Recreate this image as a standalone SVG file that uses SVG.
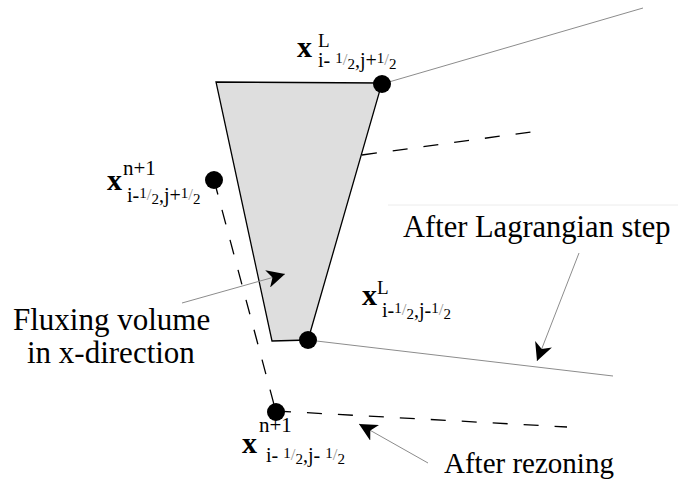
<svg xmlns="http://www.w3.org/2000/svg" width="678" height="485" viewBox="0 0 678 485">
<style>
.thin{stroke:#8c8c8c;stroke-width:1;fill:none}
.dash{stroke:#000;stroke-width:1.3;fill:none;stroke-dasharray:15 16}
.big{font-family:"Liberation Serif","Times New Roman",serif;font-size:31px;fill:#000}
.lab{font-family:"Liberation Serif","Times New Roman",serif;font-size:20px;fill:#000}
.bx{font-size:30px;font-weight:bold}
.sup{font-size:19px}
.fr{font-size:15px}
.sl{font-size:17px;fill:#9a9a9a}
.dot{fill:#000}
</style>
<defs>
<marker id="ah" viewBox="0 0 18 18" refX="18" refY="9" markerWidth="18" markerHeight="18" markerUnits="userSpaceOnUse" orient="auto">
<path d="M18,9 L0,0 L5,9 L0,18 Z" fill="#000"/>
</marker>
</defs>
<line x1="388" y1="205" x2="678" y2="205" stroke="#ececec" stroke-width="1"/>
<g id="volume">
<polygon points="216,82 382,83 308,340 272,341" fill="#dedede" stroke="#000" stroke-width="1.3"/>
</g>
<g id="connectors">
<line class="thin" x1="382" y1="84" x2="643" y2="8"/>
<line class="thin" x1="308" y1="340" x2="613" y2="376"/>
<line class="dash" x1="362" y1="155" x2="538" y2="131"/>
<line class="dash" x1="214" y1="180" x2="276" y2="412"/>
<line class="dash" x1="276" y1="411" x2="567" y2="427"/>
<line class="thin" x1="182" y1="303" x2="285" y2="274" marker-end="url(#ah)"/>
<line class="thin" x1="579" y1="253" x2="537" y2="361" marker-end="url(#ah)"/>
<line class="thin" x1="428" y1="463" x2="359" y2="424" marker-end="url(#ah)"/>
</g>
<g id="p1">
<circle class="dot" cx="382" cy="84" r="9"/>
<text class="lab"><tspan class="bx" x="297" y="57">x</tspan><tspan class="sup" x="318" y="47">L</tspan><tspan x="318" y="67">i- </tspan><tspan class="fr" dy="-4">1</tspan><tspan class="sl" dy="2">/</tspan><tspan class="fr" dy="4">2</tspan><tspan dy="-2">,j+</tspan><tspan class="fr" dy="-4">1</tspan><tspan class="sl" dy="2">/</tspan><tspan class="fr" dy="4">2</tspan></text>
</g>
<g id="p2">
<circle class="dot" cx="214" cy="180" r="9"/>
<text class="lab"><tspan class="bx" x="107" y="190">x</tspan><tspan x="123" y="175" style="font-size:21px">n+1</tspan><tspan x="127" y="202">i-</tspan><tspan class="fr" dy="-4">1</tspan><tspan class="sl" dy="2">/</tspan><tspan class="fr" dy="4">2</tspan><tspan dy="-2">,j+</tspan><tspan class="fr" dy="-4">1</tspan><tspan class="sl" dy="2">/</tspan><tspan class="fr" dy="4">2</tspan></text>
</g>
<g id="p3">
<circle class="dot" cx="308" cy="340" r="9"/>
<text class="lab"><tspan class="bx" x="362" y="305">x</tspan><tspan class="sup" x="377" y="294">L</tspan><tspan x="382" y="317">i-</tspan><tspan class="fr" dy="-4">1</tspan><tspan class="sl" dy="2">/</tspan><tspan class="fr" dy="4">2</tspan><tspan dy="-2">,j-</tspan><tspan class="fr" dy="-4">1</tspan><tspan class="sl" dy="2">/</tspan><tspan class="fr" dy="4">2</tspan></text>
</g>
<g id="p4">
<circle class="dot" cx="276" cy="412" r="9"/>
<text class="lab"><tspan x="259" y="432" style="font-size:21px">n+1</tspan><tspan class="bx" x="242" y="453">x</tspan><tspan x="266" y="462">i- </tspan><tspan class="fr" dy="-4">1</tspan><tspan class="sl" dy="2">/</tspan><tspan class="fr" dy="4">2</tspan><tspan dy="-2">,j- </tspan><tspan class="fr" dy="-4">1</tspan><tspan class="sl" dy="2">/</tspan><tspan class="fr" dy="4">2</tspan></text>
</g>
<g id="label-flux">
<text class="big" x="13" y="330">Fluxing volume</text>
<text class="big" x="27" y="363">in x-direction</text>
</g>
<g id="label-lag">
<text class="big" x="403" y="237" style="font-size:30.5px">After Lagrangian step</text>
</g>
<g id="label-rez">
<text class="big" x="444" y="473" style="font-size:29px">After rezoning</text>
</g>
</svg>
